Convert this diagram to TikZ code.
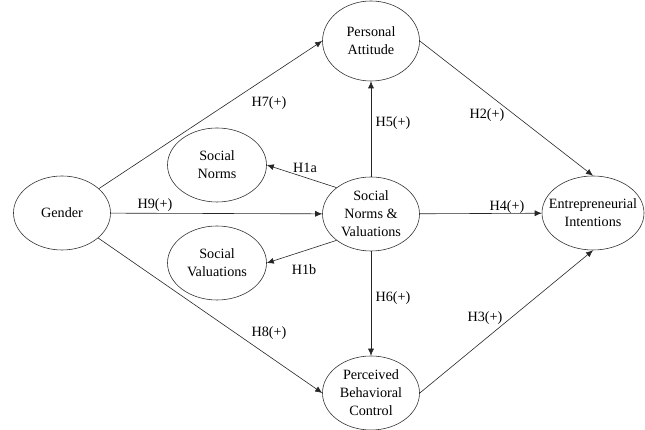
\documentclass[tikz,border=0pt]{standalone}
\usepackage{fontspec}
\setmainfont{Liberation Serif}
\usetikzlibrary{shapes.geometric,arrows.meta}

\tikzset{
  construct/.style={draw=black!80, ellipse, line width=0.6pt, inner sep=-12pt,
    align=center, minimum width=97pt, minimum height=74pt},
  link/.style={-{Latex[length=7pt,width=6pt]}, line width=0.6pt, black!85},
  hyp/.style={inner sep=0pt}
}

\begin{document}
\begin{tikzpicture}[x=1pt, y=1pt, font=\fontsize{14.2}{18}\selectfont]
            \useasboundingbox (0,0) rectangle (645,430);

            % Constructs
            \node[construct] (gender) at (62,217) {Gender};
            \node[construct, minimum height=80pt] (pa) at (371,389) {Personal\\Attitude};
            \node[construct] (snv) at (371,216) {Social\\Norms \&\\Valuations};
            \node[construct] (pbc) at (371,37) {Perceived\\Behavioral\\Control};
            \node[construct, minimum width=99pt] (sn) at (217,265) {Social\\Norms};
            \node[construct, minimum width=99pt] (sv) at (217,167) {Social\\Valuations};
            \node[construct, minimum width=102pt] (ei) at (593,217) {Entrepreneurial\\Intentions};

            % Hypotheses
            \draw[link] (gender) -- (pa.west);
            \draw[link] (gender) -- (pbc.west);
            \draw[link] (gender) -- (snv);
            \draw[link] (snv) -- (pa);
            \draw[link] (snv) -- (pbc);
            \draw[link] (snv) -- (ei);
            \draw[link] (pa.east) -- (ei.north);
            \draw[link] (pbc.east) -- (ei.south);
            \draw[link] (snv.north west) -- (sn.east);
            \draw[link] (snv.south west) -- (sv.east);

            % Labels
            \node[hyp] (h7) at (269,327) {H7(+)};
            \node[hyp] (h8) at (269,97) {H8(+)};
            \node[hyp] (h9) at (155,225) {H9(+)};
            \node[hyp] (h5) at (393,307) {H5(+)};
            \node[hyp] (h6) at (393,132) {H6(+)};
            \node[hyp] (h2) at (487,315) {H2(+)};
            \node[hyp] (h3) at (485,112) {H3(+)};
            \node[hyp] (h4) at (507,223) {H4(+)};
            \node[hyp] (h1a) at (305,262) {H1a};
            \node[hyp] (h1b) at (304,160) {H1b};
\end{tikzpicture}
\end{document}
